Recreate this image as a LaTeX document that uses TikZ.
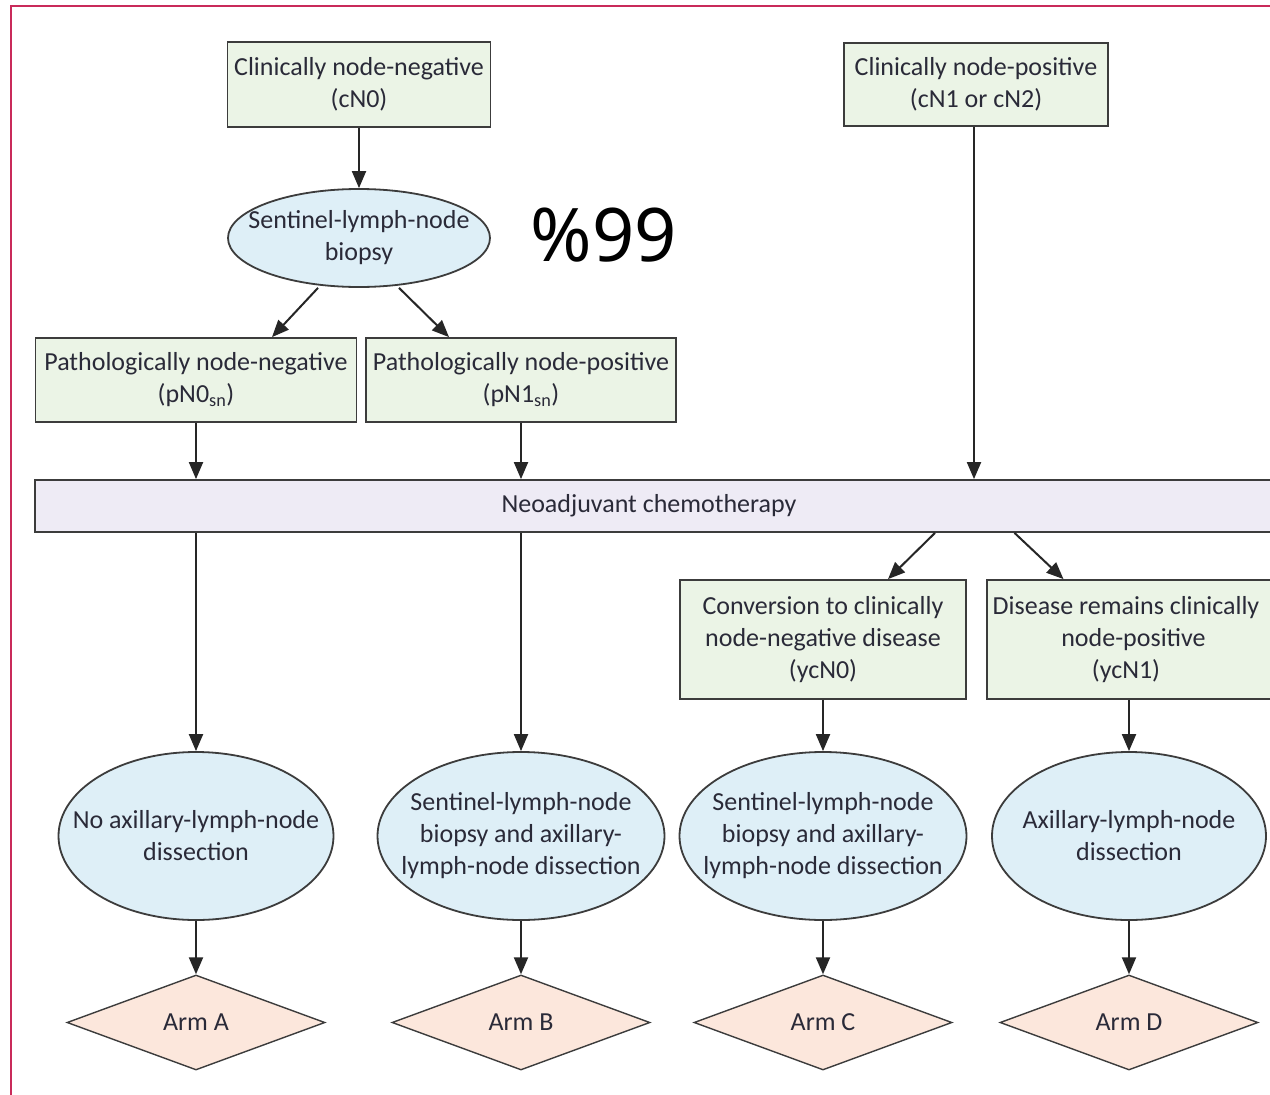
\documentclass[tikz,border=0pt]{standalone}
\usepackage{fontspec}
\setmainfont{Carlito}
\newfontfamily\pctfont{Noto Sans}
\usetikzlibrary{shapes.geometric,arrows.meta,calc}
\definecolor{boxgreen}{HTML}{EBF4E6}
\definecolor{ellblue}{HTML}{DEEFF7}
\definecolor{barlav}{HTML}{EEEBF5}
\definecolor{armpeach}{HTML}{FCE7DC}
\definecolor{framered}{HTML}{C92A5A}
\definecolor{edgegray}{HTML}{3C3C3C}
\definecolor{txt}{HTML}{2A2A38}
\begin{document}
\begin{tikzpicture}[x=1pt,y=-1pt,
 base/.style={draw=edgegray, line width=1.8pt, text=txt, font=\fontsize{26}{32}\selectfont, align=center, inner sep=0pt},
 gbox/.style={base, rectangle, fill=boxgreen},
 ell/.style={base, ellipse, fill=ellblue, inner xsep=-45pt, inner ysep=-5pt},
 armd/.style={base, diamond, fill=armpeach, line width=1.4pt, minimum width=258pt, minimum height=95pt},
 arr/.style={draw=black!85, line width=2pt, -{Triangle[length=17pt,width=14pt]}},
]
\clip (0,0) rectangle (1270,1095);
\fill[white] (0,0) rectangle (1270,1095);
\draw[framered, line width=2pt] (11,6) rectangle (1300,1120);

\node[gbox, minimum width=263pt, minimum height=85pt] (cn0) at (359,84.5) {Clinically node-negative\\(cN0)};
\node[gbox, minimum width=264pt, minimum height=83pt] (cnp) at (976,84.5) {Clinically node-positive\\(cN1 or cN2)};
\node[ell, minimum width=262pt, minimum height=98pt] (slnb) at (359,238) {Sentinel-lymph-node\\biopsy};
\node[text=black, font=\pctfont\fontsize{74}{80}\selectfont, inner sep=0pt] (pct) at (604,235) {\%99};
\node[gbox, minimum width=321pt, minimum height=84pt] (pn0) at (196,380) {Pathologically node-negative\\(pN0\textsubscript{sn})};
\node[gbox, minimum width=310pt, minimum height=84pt] (pn1) at (521,380) {Pathologically node-positive\\(pN1\textsubscript{sn})};
\node[base, rectangle, fill=barlav, minimum width=1245pt, minimum height=52pt] (nac) at (657.5,506) {Neoadjuvant chemotherapy\hspace*{17pt}};
\node[gbox, minimum width=286pt, minimum height=119pt] (ycn0) at (823,639.5) {Conversion to clinically\\node-negative disease\\(ycN0)};
\node[gbox, minimum width=293pt, minimum height=119pt] (ycn1) at (1133.5,639.5) {Disease remains clinically\hspace*{15pt}\\node-positive\hspace*{15pt}\\(ycN1)\hspace*{15pt}};

\node[ell, minimum width=275pt, minimum height=168pt] (ella) at (196,836) {No axillary-lymph-node\\dissection};
\node[ell, minimum width=287pt, minimum height=168pt] (ellb) at (521,836) {Sentinel-lymph-node\\biopsy and axillary-\\lymph-node dissection};
\node[ell, minimum width=287pt, minimum height=168pt] (ellc) at (823,836) {Sentinel-lymph-node\\biopsy and axillary-\\lymph-node dissection};
\node[ell, minimum width=274pt, minimum height=168pt] (elld) at (1129,836) {Axillary-lymph-node\\dissection};

\node[armd] (arma) at (196,1022.5) {Arm A};
\node[armd] (armb) at (521,1022.5) {Arm B};
\node[armd] (armc) at (823,1022.5) {Arm C};
\node[armd] (armdd) at (1129,1022.5) {Arm D};

\draw[arr] (cn0) -- (slnb);
\draw[arr] ([xshift=-41pt]slnb.south) -- ([xshift=76pt]pn0.north);
\draw[arr] ([xshift=40pt]slnb.south) -- ([xshift=-72pt]pn1.north);
\draw[arr] (pn0) -- (pn0 |- nac.north);
\draw[arr] (pn1) -- (pn1 |- nac.north);
\draw[arr] ([xshift=-2pt]cnp.south) -- ([xshift=-2pt]cnp.south |- nac.north);
\draw[arr] (nac.south -| ella) -- (ella);
\draw[arr] (nac.south -| ellb) -- (ellb);
\coordinate (d1) at ([xshift=112pt]ycn0.north);
\coordinate (d2) at ([xshift=-119pt]ycn1.north);
\draw[arr] (nac.south -| d1) -- ([xshift=65pt]ycn0.north);
\draw[arr] (nac.south -| d2) -- ([xshift=-70pt]ycn1.north);
\draw[arr] (ycn0) -- (ellc);
\draw[arr] (ycn1.south -| elld) -- (elld);
\draw[arr] (ella) -- (arma);
\draw[arr] (ellb) -- (armb);
\draw[arr] (ellc) -- (armc);
\draw[arr] (elld) -- (armdd);
\end{tikzpicture}
\end{document}
